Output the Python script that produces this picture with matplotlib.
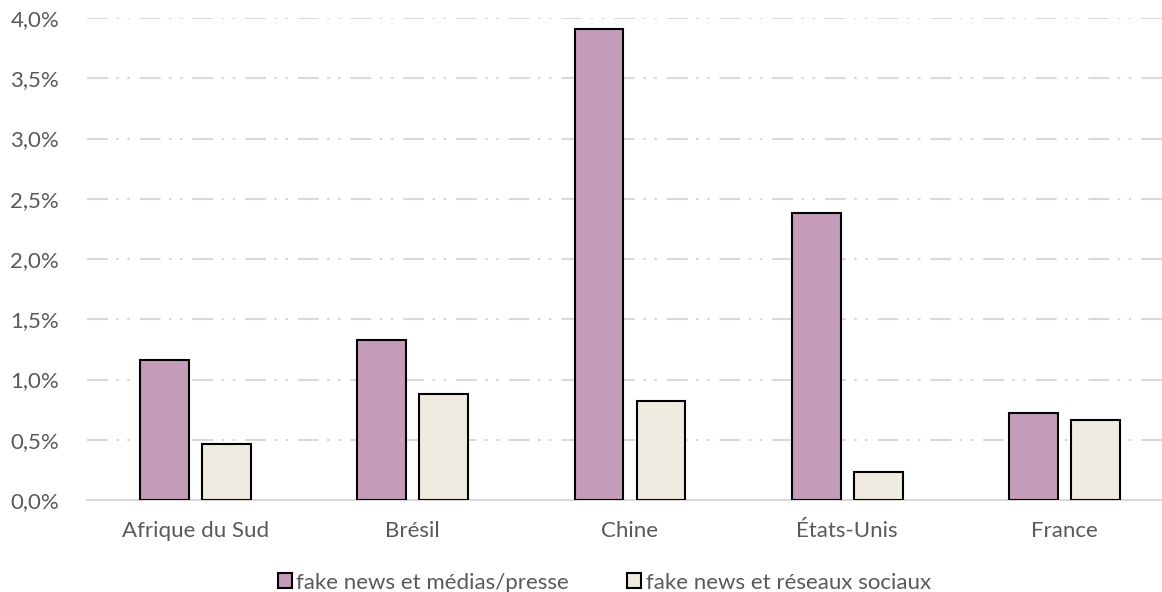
import numpy as np
import matplotlib.pyplot as plt
from matplotlib.ticker import FuncFormatter

plt.rcParams['font.family'] = ['Lato', 'DejaVu Sans']

pays = ["Afrique du Sud", "Brésil", "Chine", "États-Unis", "France"]
medias = [1.16, 1.33, 3.91, 2.38, 0.72]
reseaux = [0.465, 0.88, 0.82, 0.23, 0.665]
series = ["fake news et médias/presse", "fake news et réseaux sociaux"]
couleurs = ["#c49bb9", "#efebe0"]

fig = plt.figure(figsize=(11.62, 5.92), dpi=100)
ax = fig.add_axes([87 / 1162, 92 / 592, 1086 / 1162, 482 / 592])

x = np.arange(len(pays))
w = 0.225
off = 0.143
ax.bar(x - off, medias, w, color=couleurs[0], edgecolor="black", linewidth=1.5,
       label=series[0], zorder=3)
ax.bar(x + off, reseaux, w, color=couleurs[1], edgecolor="black", linewidth=1.5,
       label=series[1], zorder=3)

ax.set_xlim(-0.5, len(pays) - 0.5)
ax.set_ylim(0, 4.0)
ax.set_yticks(np.arange(0, 4.01, 0.5))
ax.yaxis.set_major_formatter(FuncFormatter(lambda v, p: f"{v:.1f}%".replace(".", ",")))
ax.set_xticks(x)
ax.set_xticklabels(pays)

ax.grid(axis="y", color="#d9d9d9", linewidth=1.5, dashes=(10, 4, 1.3, 4, 1.3, 4.7), zorder=0)
for s in ["top", "right", "left"]:
    ax.spines[s].set_visible(False)
ax.spines["bottom"].set_color("#d9d9d9")
ax.spines["bottom"].set_linewidth(1.5)
ax.tick_params(length=0, labelsize=16, colors="#595959")
ax.tick_params(axis="x", pad=15)
ax.tick_params(axis="y", pad=20)

leg = fig.legend(loc="lower center", bbox_to_anchor=(0.52, -0.035), ncol=2, frameon=False,
                 fontsize=16, handlelength=0.65, handleheight=0.65, handletextpad=0.2,
                 columnspacing=2.6, labelcolor="#595959")

fig.savefig("out.png", dpi=100)
